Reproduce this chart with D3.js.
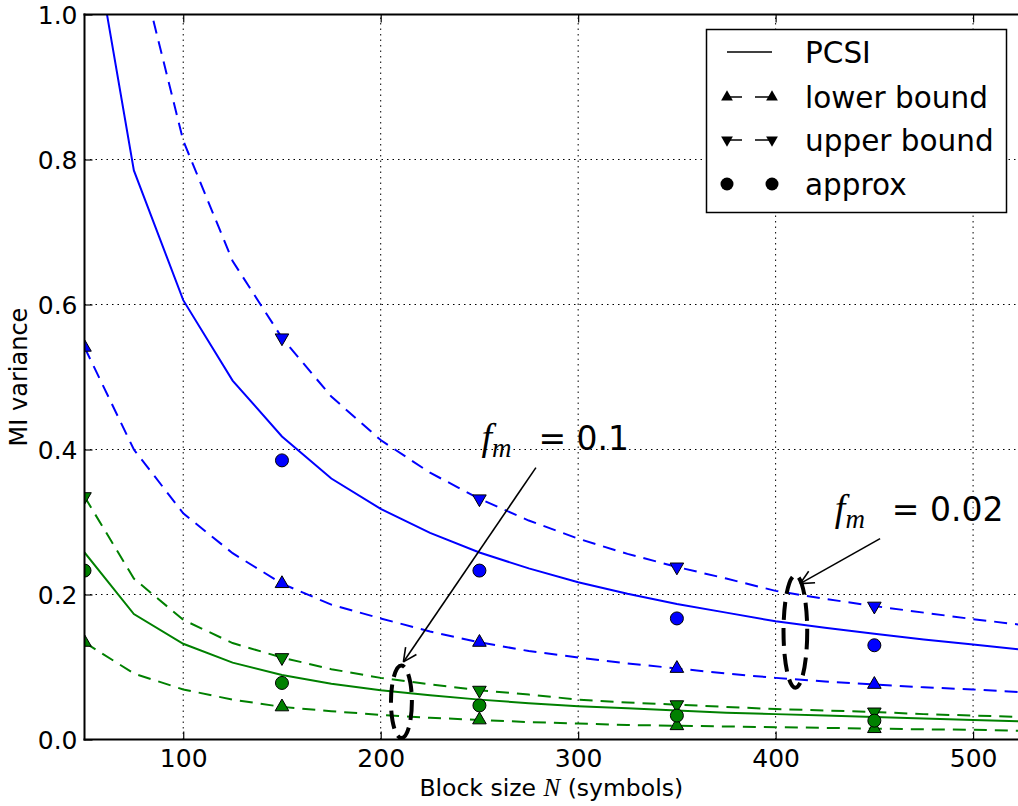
<!DOCTYPE html>
<html>
<head>
<meta charset="utf-8">
<script src="https://cdn.jsdelivr.net/npm/d3@7"></script>
<style>
body{margin:0;background:#fff;}
text{font-family:"DejaVu Sans",sans-serif;}
</style>
</head>
<body>
<div id="chart"></div>
<script>
// block sizes for the curves
const blockN=[50,75,100,125,150,175,200,225,250,275,300,325,350,375,400,425,450,475,500,525];
// f_m = 0.02 (blue)
const pcsiBlue=[1.18,0.785,0.606,0.495,0.418,0.36,0.318,0.285,0.258,0.236,0.217,0.201,0.187,0.175,0.163,0.154,0.146,0.138,0.131,0.124];
const upperBlue=[1.65,1.1,0.826,0.66,0.554,0.473,0.413,0.368,0.332,0.302,0.277,0.256,0.238,0.222,0.205,0.194,0.184,0.175,0.166,0.158];
const lowerBlue=[0.541,0.40,0.312,0.257,0.215,0.186,0.167,0.149,0.134,0.122,0.113,0.105,0.098,0.091,0.085,0.080,0.076,0.072,0.069,0.065];
// f_m = 0.1 (green)
const pcsiGreen=[0.258,0.173,0.132,0.106,0.089,0.077,0.068,0.061,0.055,0.050,0.046,0.043,0.040,0.037,0.035,0.033,0.031,0.029,0.027,0.025];
const upperGreen=[0.335,0.222,0.165,0.133,0.113,0.097,0.085,0.076,0.068,0.062,0.055,0.051,0.048,0.045,0.042,0.040,0.038,0.035,0.033,0.031];
const lowerGreen=[0.134,0.091,0.069,0.055,0.045,0.039,0.034,0.030,0.027,0.024,0.022,0.020,0.019,0.018,0.017,0.016,0.015,0.014,0.0135,0.012];
// marker positions and the approximation
const markerN=[50,150,250,350,450];
const approxBlue=[1.1,0.385,0.233,0.167,0.130];
const approxGreen=[0.233,0.078,0.047,0.033,0.026];
const xTicks=[100,200,300,400,500];
const yTicks=[0,0.2,0.4,0.6,0.8,1.0];
const legendLabels=["PCSI","lower bound","upper bound","approx"];

const W=1018,H=806;
const x=d3.scaleLinear().domain([50,523]).range([84.5,1018.5]);
const y=d3.scaleLinear().domain([0,1]).range([739.5,14.5]);

const svg=d3.select("#chart").append("svg").attr("width",W).attr("height",H);
svg.append("defs").append("clipPath").attr("id","plotclip")
   .append("rect").attr("x",x(50)).attr("y",y(1)).attr("width",x(523)-x(50)).attr("height",y(0)-y(1));

// grid
const grid=svg.append("g");
grid.selectAll(".gx").data(xTicks).enter().append("line")
    .attr("x1",d=>x(d)).attr("x2",d=>x(d)).attr("y1",y(0)).attr("y2",y(1))
    .attr("stroke","#000").attr("stroke-width",1).attr("stroke-dasharray","1.5,4");
grid.selectAll(".gy").data(yTicks.slice(1,-1)).enter().append("line")
    .attr("x1",x(50)).attr("x2",W).attr("y1",d=>y(d)).attr("y2",d=>y(d))
    .attr("stroke","#000").attr("stroke-width",1).attr("stroke-dasharray","1.5,4");

const plot=svg.append("g").attr("clip-path","url(#plotclip)");
const line=d3.line().x(d=>x(d[0])).y(d=>y(d[1]));
const series=[
  {vals:pcsiBlue,color:"#0000ff",dash:null},
  {vals:upperBlue,color:"#0000ff",dash:"13,8",mark:"down"},
  {vals:lowerBlue,color:"#0000ff",dash:"13,8",mark:"up"},
  {vals:pcsiGreen,color:"#008000",dash:null},
  {vals:upperGreen,color:"#008000",dash:"13,8",mark:"down"},
  {vals:lowerGreen,color:"#008000",dash:"13,8",mark:"up"}
];
series.forEach(function(s){
  plot.append("path").datum(blockN.map((n,i)=>[n,s.vals[i]]))
      .attr("d",line).attr("fill","none").attr("stroke",s.color)
      .attr("stroke-width",2).attr("stroke-dasharray",s.dash);
});
const tri=d3.symbol().type(d3.symbolTriangle).size(80);
series.forEach(function(s){
  if(!s.mark) return;
  const pts=markerN.map(n=>[n,s.vals[blockN.indexOf(n)]]);
  plot.selectAll(null).data(pts).enter().append("path")
      .attr("d",tri)
      .attr("transform",d=>"translate("+x(d[0])+","+y(d[1])+")"+(s.mark=="down"?" rotate(180)":""))
      .attr("fill",s.color).attr("stroke","#000").attr("stroke-width",1);
});
[[approxBlue,"#0000ff"],[approxGreen,"#008000"]].forEach(function(a){
  plot.selectAll(null).data(markerN.map((n,i)=>[n,a[0][i]])).enter().append("circle")
      .attr("cx",d=>x(d[0])).attr("cy",d=>y(d[1])).attr("r",6.5)
      .attr("fill",a[1]).attr("stroke","#000").attr("stroke-width",1);
});

// spines and ticks
svg.append("line").attr("x1",x(50)).attr("x2",x(50)).attr("y1",y(0)+1).attr("y2",y(1)-1).attr("stroke","#000").attr("stroke-width",2);
svg.append("line").attr("x1",x(50)-1).attr("x2",W).attr("y1",y(0)).attr("y2",y(0)).attr("stroke","#000").attr("stroke-width",2);
svg.append("line").attr("x1",x(50)-1).attr("x2",W).attr("y1",y(1)).attr("y2",y(1)).attr("stroke","#000").attr("stroke-width",2);
const xb=svg.append("g").attr("transform","translate(0,"+y(0)+")")
   .call(d3.axisBottom(x).tickValues(xTicks).tickSizeInner(-8).tickSizeOuter(0).tickPadding(10));
const xt=svg.append("g").attr("transform","translate(0,"+y(1)+")")
   .call(d3.axisTop(x).tickValues(xTicks).tickSizeInner(-8).tickSizeOuter(0).tickFormat(""));
const yl=svg.append("g").attr("transform","translate("+x(50)+",0)")
   .call(d3.axisLeft(y).tickValues(yTicks).tickSizeInner(-8).tickSizeOuter(0).tickPadding(7).tickFormat(d3.format(".1f")));
[xb,xt,yl].forEach(function(g){
  g.select(".domain").remove();
  g.selectAll(".tick line").attr("stroke","#000").attr("stroke-width",1.2);
  g.selectAll("text").attr("font-family","DejaVu Sans").attr("font-size",25).attr("fill","#000");
});
yl.selectAll(".tick text").attr("dy","0.36em");

svg.append("text").attr("x",(x(50)+W)/2).attr("y",796).attr("text-anchor","middle").attr("font-size",23.5)
   .call(t=>{t.append("tspan").text("Block size ");
             t.append("tspan").attr("font-family","Liberation Serif").attr("font-style","italic").attr("font-size",25).text("N");
             t.append("tspan").text(" (symbols)");});
svg.append("text").attr("transform","translate(27,"+(y(0)+y(1))/2+") rotate(-90)")
   .attr("text-anchor","middle").attr("font-size",24).text("MI variance");

// annotations
const notes=[
  {label:"0.1",tx:251,ty:0.40,from:[278.6,0.375],to:[211.5,0.107],ex:210.5,ey:0.052,ew:5.3,eh:0.1},
  {label:"0.02",tx:430,ty:0.301,from:[452.9,0.277],to:[412.4,0.215],ex:410,ey:0.149,ew:6,eh:0.155}
];
notes.forEach(function(n){
  const t=svg.append("text").attr("x",x(n.tx)).attr("y",y(n.ty)).attr("font-size",33);
  t.append("tspan").attr("font-family","Liberation Serif").attr("font-style","italic").attr("font-size",38).text("f");
  t.append("tspan").attr("font-family","Liberation Serif").attr("font-style","italic").attr("font-size",27).attr("dy",7).text("m");
  t.append("tspan").attr("dy",-7).attr("x",x(n.tx)+57).text("= "+n.label);
  svg.append("ellipse").attr("cx",x(n.ex)).attr("cy",y(n.ey))
     .attr("rx",x(n.ex+n.ew)-x(n.ex)).attr("ry",(y(0)-y(n.eh))/2)
     .attr("fill","none").attr("stroke","#000").attr("stroke-width",4).attr("stroke-dasharray","18,8");
  const x1=x(n.from[0]),y1=y(n.from[1]),x2=x(n.to[0]),y2=y(n.to[1]);
  svg.append("line").attr("x1",x1).attr("y1",y1).attr("x2",x2).attr("y2",y2).attr("stroke","#000").attr("stroke-width",1.6);
  const ang=Math.atan2(y1-y2,x1-x2);
  [-0.45,0.45].forEach(function(da){
    svg.append("line").attr("x1",x2).attr("y1",y2)
       .attr("x2",x2+15*Math.cos(ang+da)).attr("y2",y2+15*Math.sin(ang+da))
       .attr("stroke","#000").attr("stroke-width",1.6);
  });
});

// legend
const lg=svg.append("g");
lg.append("rect").attr("x",706.5).attr("y",29.5).attr("width",300).attr("height",183)
  .attr("fill","#fff").attr("stroke","#000").attr("stroke-width",1.5);
const rowY=[52,97,140,184];
legendLabels.forEach(function(l,i){
  lg.append("text").attr("x",805).attr("y",rowY[i]).attr("dy","0.36em").attr("font-size",29.5).text(l);
});
lg.append("line").attr("x1",727).attr("x2",772).attr("y1",rowY[0]).attr("y2",rowY[0]).attr("stroke","#000").attr("stroke-width",1.5);
[1,2].forEach(function(i){
  lg.append("line").attr("x1",727).attr("x2",742).attr("y1",rowY[i]).attr("y2",rowY[i]).attr("stroke","#000").attr("stroke-width",1.5);
  lg.append("line").attr("x1",755).attr("x2",772).attr("y1",rowY[i]).attr("y2",rowY[i]).attr("stroke","#000").attr("stroke-width",1.5);
  [727,772].forEach(function(px){
    lg.append("path").attr("d",d3.symbol().type(d3.symbolTriangle).size(60))
      .attr("transform","translate("+px+","+rowY[i]+")"+(i==2?" rotate(180)":"")).attr("fill","#000");
  });
});
[727,772].forEach(function(px){
  lg.append("circle").attr("cx",px).attr("cy",rowY[3]).attr("r",6.5).attr("fill","#000");
});
</script>
</body>
</html>
